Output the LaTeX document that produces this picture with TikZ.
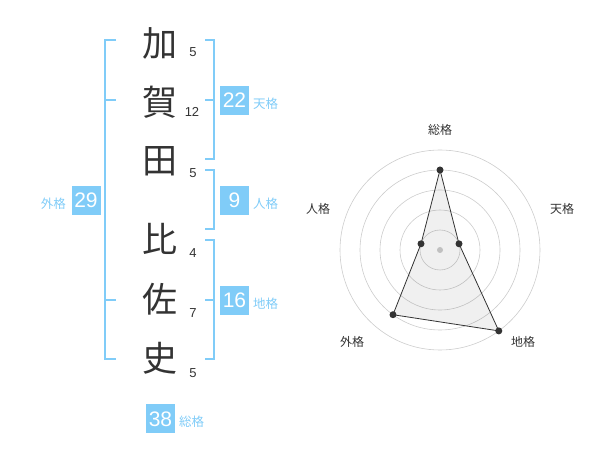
\documentclass[tikz,border=0pt]{standalone}
\usepackage{fontspec}
\setmainfont{Liberation Sans}
\newfontfamily\jp{Noto Sans CJK JP}
\definecolor{kblue}{RGB}{128,204,248}
\definecolor{kdark}{RGB}{51,51,51}
\definecolor{kgrid}{RGB}{204,204,204}
\begin{document}
\begin{tikzpicture}[x=1pt,y=-1pt,
  kanji/.style={font=\jp\fontsize{35}{35}\selectfont,text=kdark,inner sep=0},
  strokes/.style={font=\fontsize{13}{13}\selectfont,text=kdark,inner sep=0},
  valbox/.style={fill=kblue,text=white,minimum width=29,minimum height=29,inner sep=0,font=\fontsize{21}{21}\selectfont},
  vlabel/.style={text=kblue,font=\jp\fontsize{12.5}{12.5}\selectfont,inner sep=0},
  brk/.style={draw=kblue,line width=2},
  rlabel/.style={text=kdark,font=\jp\fontsize{12}{12}\selectfont,inner sep=0},
  ring/.style={draw=kgrid,line width=0.6},
  dot/.style={circle,fill=kdark,inner sep=0,minimum size=7}]
\useasboundingbox (0,0) rectangle (600,470);
% kanji
\node[kanji] (k1) at (160,43) {加};
\node[kanji] (k2) at (160,102) {賀};
\node[kanji] (k3) at (160,161) {田};
\node[kanji] (k4) at (160,239) {比};
\node[kanji] (k5) at (160,299) {佐};
\node[kanji] (k6) at (160,358) {史};
\node[strokes] (s1) at (193,52) {5};
\node[strokes] (s2) at (192,112) {12};
\node[strokes] (s3) at (193,173) {5};
\node[strokes] (s4) at (193,253) {4};
\node[strokes] (s5) at (193,313) {7};
\node[strokes] (s6) at (193,373) {5};
% left bracket (gaikaku)
\coordinate (la) at (116,40); \coordinate (lb) at (116,359);
\draw[brk] (la) -- (105,40) -- (105,359) -- (lb);
\coordinate (lm1) at (116,100); \coordinate (lm2) at (116,300);
\draw[brk] (105,100) -- (lm1);
\draw[brk] (105,300) -- (lm2);
% right brackets
\coordinate (ta) at (205,40); \coordinate (tb) at (205,159);
\draw[brk] (ta) -- (214,40) -- (214,159) -- (tb);
\coordinate (tm) at (205,100);
\draw[brk] (214,100) -- (tm);
\coordinate (ja) at (205,170); \coordinate (jb) at (205,229);
\draw[brk] (ja) -- (214,170) -- (214,229) -- (jb);
\coordinate (ca) at (205,240); \coordinate (cb) at (205,359);
\draw[brk] (ca) -- (214,240) -- (214,359) -- (cb);
\coordinate (cm) at (205,300);
\draw[brk] (214,300) -- (cm);
% value boxes
\node[valbox] (b22) at (234.5,100.3) {22};
\node[vlabel,anchor=west] (l22) at (253,104) {天格};
\node[valbox] (b9) at (234.5,200.3) {9};
\node[vlabel,anchor=west] (l9) at (253,204) {人格};
\node[valbox] (b16) at (234.5,300.3) {16};
\node[vlabel,anchor=west] (l16) at (253,304) {地格};
\node[valbox] (b29) at (86,200.3) {29};
\node[vlabel,anchor=east] (l29) at (66,204) {外格};
\node[valbox] (b38) at (160.5,418.8) {38};
\node[vlabel,anchor=west] (l38) at (179,422) {総格};
% radar
\coordinate (c) at (440,250);
\foreach \r in {20,40,60,80,100} \draw[ring] (c) circle (\r);
\fill[kgrid] (c) circle (3);
\path (c) ++(0,-80) coordinate (pS);
\path (c) ++(19.0,-6.2) coordinate (pT);
\path (c) ++(58.8,80.9) coordinate (pC);
\path (c) ++(-47.0,64.7) coordinate (pG);
\path (c) ++(-19.0,-6.2) coordinate (pJ);
\filldraw[fill=black,fill opacity=0.06,draw=kdark,line width=0.8] (pS) -- (pT) -- (pC) -- (pG) -- (pJ) -- cycle;
\foreach \p in {pS,pT,pC,pG,pJ} \node[dot] at (\p) {};
\node[rlabel] (rS) at (440,130) {総格};
\node[rlabel] (rT) at (562,208.5) {天格};
\node[rlabel] (rJ) at (318,208.5) {人格};
\node[rlabel] (rG) at (352,342) {外格};
\node[rlabel] (rC) at (523,342) {地格};
\end{tikzpicture}
\end{document}
